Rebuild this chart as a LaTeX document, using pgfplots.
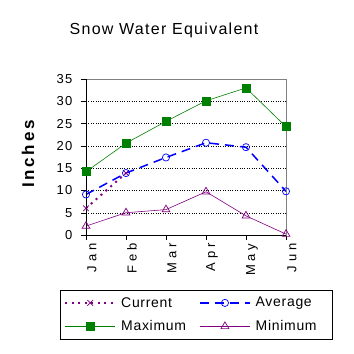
\documentclass[border=0pt]{standalone}
\usepackage{pgfplots}
\pgfplotsset{compat=1.18}
\usepackage{fontspec}
\setmainfont{Liberation Sans}
\definecolor{cpurple}{HTML}{800080}
\definecolor{cblue}{HTML}{0000FF}
\definecolor{cgreen}{HTML}{008000}
\begin{document}
\begin{tikzpicture}
\useasboundingbox (0pt,0pt) rectangle (354pt,354pt);
\node[font=\fontsize{16}{18}\selectfont\addfontfeature{LetterSpace=8}] at (164pt,324pt) {Snow Water Equivalent};
\node[rotate=90,font=\fontsize{17}{19}\selectfont\bfseries\addfontfeature{LetterSpace=16}] at (28pt,200pt) {Inches};
\begin{axis}[
  at={(86pt,119pt)}, anchor=south west,
  scale only axis, width=200pt, height=156pt,
  xmin=0, xmax=5, ymin=0, ymax=35,
  xtick={0,1,2,3,4,5},
  xticklabels={Jan,Feb,Mar,Apr,May,Jun},
  xticklabel style={rotate=90, anchor=east, yshift=-6pt, font=\fontsize{13}{15}\selectfont\addfontfeature{LetterSpace=30}},
  ytick={0,5,...,35},
  yticklabel style={xshift=-5pt, font=\fontsize{13}{15}\selectfont\addfontfeature{LetterSpace=10}},
  /pgf/number format/assume math mode=true,
  tick align=outside, tick style={black, thin}, major tick length=5pt,
  xtick pos=bottom, ytick pos=left,
  ymajorgrids, grid style={black, dotted, thin},
  axis line style={gray, thin},
  legend columns=2,
  legend style={at={(rel axis cs:-0.13,-0.353)}, anchor=north west, draw=black, thin,
    font=\fontsize{14}{16}\selectfont\addfontfeature{LetterSpace=5},
    /tikz/every even column/.append style={column sep=4pt},
    /tikz/every odd column/.append style={column sep=3pt},
    row sep=8pt, inner xsep=4pt, inner ysep=5pt},
  legend cell align=left,
  legend image code/.code={\draw[mark repeat=2,mark phase=2,#1] plot coordinates {(0pt,0pt) (25pt,0pt) (50pt,0pt)};},
]
\addplot[cpurple, line width=2pt, dash pattern=on 2pt off 4.5pt, mark=x, mark size=4pt, mark options={solid, line width=0.7pt}] coordinates {(0,6.0) (1,13.9)};
\addlegendentry{\makebox[72pt][l]{Current}}
\addplot[cblue, line width=1.5pt, dash pattern=on 9pt off 6pt, mark=o, mark size=3.6pt, mark options={solid, line width=0.7pt}] coordinates {(0,9.1) (1,13.9) (2,17.4) (3,20.7) (4,19.7) (5,9.8)};
\addlegendentry{\makebox[70pt][l]{Average}}
\addplot[cgreen, line width=0.6pt, mark=square*, mark size=4pt, mark options={solid}] coordinates {(0,14.2) (1,20.6) (2,25.5) (3,30.1) (4,33.0) (5,24.3)};
\addlegendentry{\makebox[72pt][l]{Maximum}}
\addplot[cpurple, line width=0.6pt, mark=triangle, mark size=4.5pt, mark options={solid, line width=0.7pt}] coordinates {(0,2.0) (1,5.0) (2,5.7) (3,9.7) (4,4.3) (5,0.2)};
\addlegendentry{\makebox[70pt][l]{Minimum}}
\draw[black, thin] (rel axis cs:0,0) -- (rel axis cs:0,1);
\draw[black, thin] (rel axis cs:0,0) -- (rel axis cs:1,0);
\end{axis}
\end{tikzpicture}
\end{document}
